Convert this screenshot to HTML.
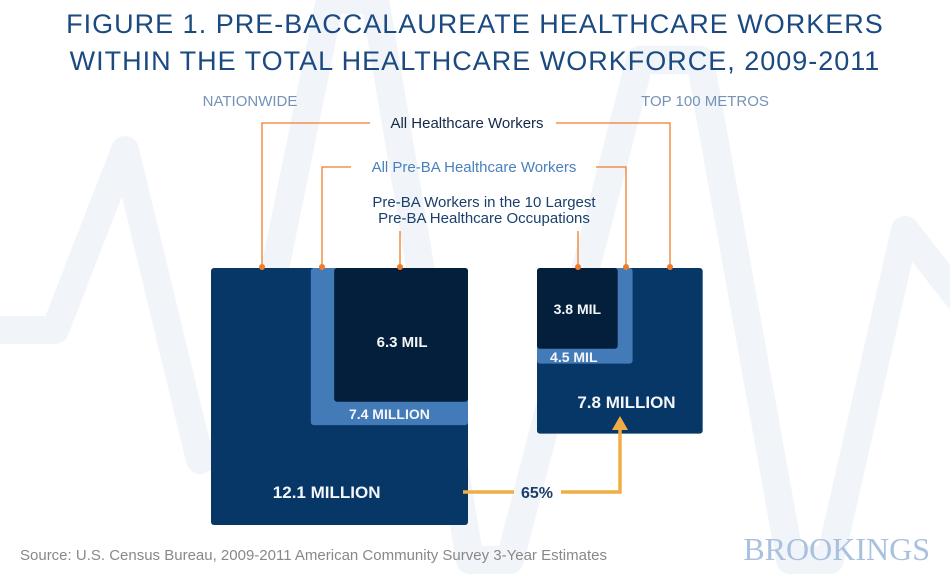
<!DOCTYPE html>
<html><head><meta charset="utf-8"><style>
body{margin:0;background:#fff;font-family:"Liberation Sans",sans-serif}
#wrap{position:relative;width:950px;height:575px;overflow:hidden;background:#fff}
</style></head><body>
<div id="wrap">
<svg id="svg" width="950" height="575" xmlns="http://www.w3.org/2000/svg">
<polyline points="-10,330 55,330 125,150 200,460 240,440 330,0 375,0 470,560 510,560 640,60 700,60 790,560 830,560 905,230 960,300" fill="none" stroke="#f1f4f9" stroke-width="28" stroke-linejoin="round"/>
<text x="475" y="33" text-anchor="middle" font-size="27" fill="#1b4a80" letter-spacing="1">FIGURE 1.  PRE-BACCALAUREATE HEALTHCARE WORKERS</text>
<text x="475" y="70" text-anchor="middle" font-size="27" fill="#1b4a80" letter-spacing="1">WITHIN THE TOTAL HEALTHCARE WORKFORCE, 2009-2011</text>
<text x="250" y="106" text-anchor="middle" font-size="15" fill="#7592b8">NATIONWIDE</text>
<text x="705" y="106" text-anchor="middle" font-size="15" fill="#7592b8">TOP 100 METROS</text>
<g fill="none" stroke="#f07c2a" stroke-width="1.3">
<polyline points="262,267 262,123 370,123"/><polyline points="556,123 670,123 670,267"/>
<polyline points="322,267 322,167 351,167"/><polyline points="596,167 626,167 626,267"/>
<line x1="400" y1="231" x2="400" y2="267"/><line x1="578" y1="231" x2="578" y2="267"/>
</g>
<text x="467" y="128" text-anchor="middle" font-size="15" fill="#14294a">All Healthcare Workers</text>
<text x="474" y="172" text-anchor="middle" font-size="15" fill="#4a80bd">All Pre-BA Healthcare Workers</text>
<text x="484" y="207" text-anchor="middle" font-size="15" fill="#1b3f6c">Pre-BA Workers in the 10 Largest</text>
<text x="484" y="223" text-anchor="middle" font-size="15" fill="#1b3f6c">Pre-BA Healthcare Occupations</text>
<g id="boxes"></g>
<g fill="#f07c2a">
<circle cx="262" cy="267" r="3"/><circle cx="322" cy="267" r="3"/><circle cx="400" cy="267" r="3"/>
<circle cx="578" cy="267" r="3"/><circle cx="626" cy="267" r="3"/><circle cx="670" cy="267" r="3"/>
</g>
<g>
<polyline points="463,492 514,492" stroke="#f0ad45" stroke-width="3.5" fill="none"/>
<polyline points="561,492 620,492 620,428" stroke="#f0ad45" stroke-width="3.5" fill="none"/>
<polygon points="620,416 612,430 628,430" fill="#f0ad45"/>
<text x="537" y="498" text-anchor="middle" font-size="16" font-weight="bold" fill="#1b3f6c">65%</text>
</g>
<text x="20" y="560" font-size="15" fill="#888">Source: U.S. Census Bureau, 2009-2011 American Community Survey 3-Year Estimates</text>
<text x="930" y="560" text-anchor="end" font-family="Liberation Serif,serif" font-size="32" fill="#a9c1df">BROOKINGS</text>
</svg>
</div>
<script>
const groups=["Nationwide","Top 100 Metros"];
const totalValues=[12.1,7.8];
const preBAValues=[7.4,4.5];
const top10Values=[6.3,3.8];
const totalLabels=["12.1 MILLION","7.8 MILLION"];
const preBALabels=["7.4 MILLION","4.5 MIL"];
const top10Labels=["6.3 MIL","3.8 MIL"];
const NS="http://www.w3.org/2000/svg";
const scale=v=>v*21.24;
const g=document.getElementById('boxes');
const topY=268;
function rect(x,y,w,h,fill,name){
 const r=document.createElementNS(NS,'rect');
 r.setAttribute('x',x);r.setAttribute('y',y);r.setAttribute('width',w);r.setAttribute('height',h);
 r.setAttribute('rx',3);r.setAttribute('fill',fill);
 
 
 g.appendChild(r);return r;}
function txt(x,y,s,size,name){
 const t=document.createElementNS(NS,'text');
 t.setAttribute('x',x);t.setAttribute('y',y);t.setAttribute('text-anchor','middle');
 t.setAttribute('font-size',size);t.setAttribute('font-weight','bold');t.setAttribute('fill','#f4f6fa');t.textContent=s;
 
 
 g.appendChild(t);}
{const i=0,right=468;const T=scale(totalValues[i]),P=scale(preBAValues[i]),D=scale(top10Values[i]);
 rect(right-T,topY,T,T,'#063767','box-total-nationwide');
 rect(right-P,topY,P,P,'#437bb8','box-preba-nationwide');
 rect(right-D,topY,D,D,'#041f3b','box-top10-nationwide');
 txt(right-D/2+1,347,top10Labels[i],15,'label-top10-nationwide');
 txt(right-P/2,419,preBALabels[i],14,'label-preba-nationwide');
 txt(right-T+T*0.45,498,totalLabels[i],17,'label-total-nationwide');}
{const i=1,left=537;const T=scale(totalValues[i]),P=scale(preBAValues[i]),D=scale(top10Values[i]);
 rect(left,topY,T,T,'#063767','box-total-metros');
 rect(left,topY,P,P,'#437bb8','box-preba-metros');
 rect(left,topY,D,D,'#041f3b','box-top10-metros');
 txt(left+D/2,314,top10Labels[i],14,'label-top10-metros');
 txt(left+P/2-11,362,preBALabels[i],14,'label-preba-metros');
 txt(left+T*0.54,408,totalLabels[i],17,'label-total-metros');}
</script>
</body></html>
